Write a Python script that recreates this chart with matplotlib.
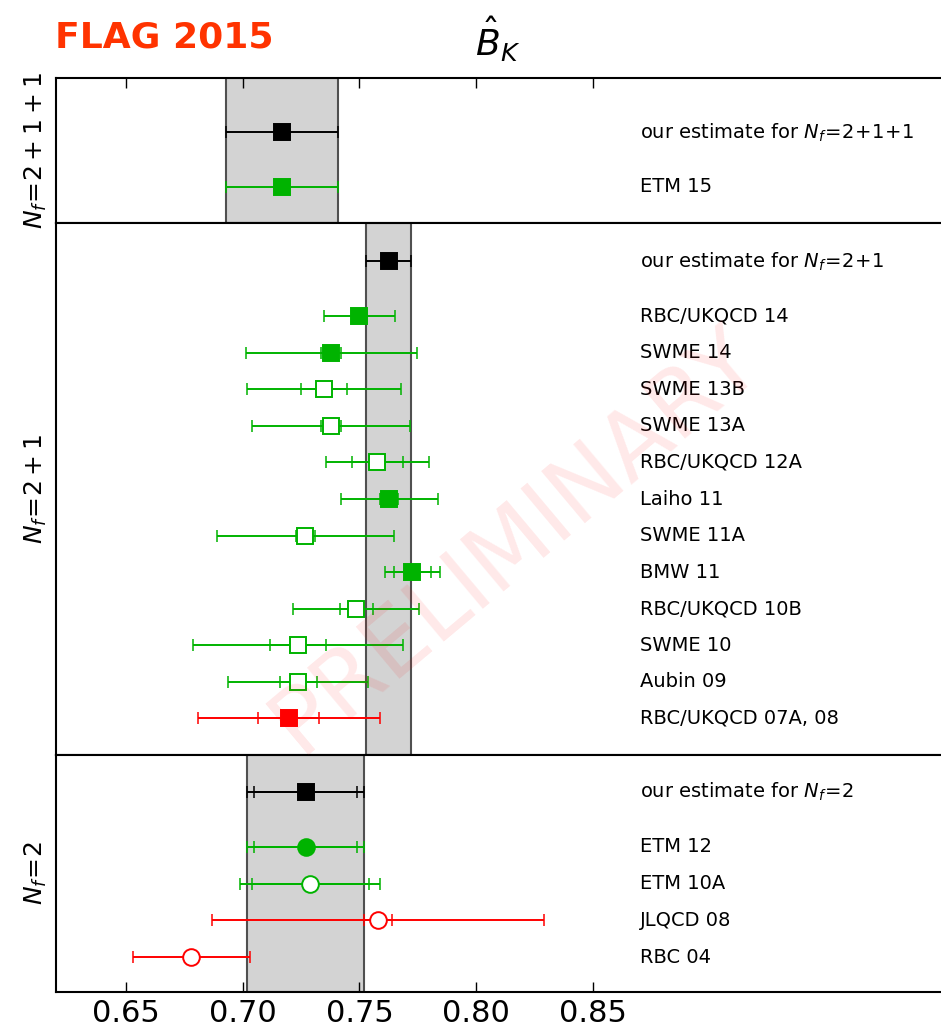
import numpy as np
import matplotlib.pyplot as plt

# colours used in the FLAG plots
COLS = {"black": "black", "green": "#00b300", "red": "#ff0000"}

# ---- N_f = 2+1+1 ----
nf4_labels = ["ETM 15"]
nf4_vals = [0.717]
nf4_stat = [0.0]
nf4_tot = [0.024]
nf4_cols = ["green"]
nf4_marks = ["s"]
nf4_fill = [True]
nf4_est = [0.717, 0.0, 0.024]

# ---- N_f = 2+1 ----
nf3_labels = ["RBC/UKQCD 14", "SWME 14", "SWME 13B", "SWME 13A", "RBC/UKQCD 12A",
              "Laiho 11", "SWME 11A", "BMW 11", "RBC/UKQCD 10B", "SWME 10",
              "Aubin 09", "RBC/UKQCD 07A, 08"]
nf3_vals = [0.7499, 0.7379, 0.7347, 0.7377, 0.7577, 0.7628, 0.7268, 0.7727,
            0.7487, 0.7238, 0.7238, 0.7197]
nf3_stat = [0.0024, 0.0043, 0.0099, 0.0042, 0.0110, 0.0038, 0.0040, 0.0081,
            0.0070, 0.0120, 0.0080, 0.0130]
nf3_tot = [0.0152, 0.0366, 0.0330, 0.0339, 0.0220, 0.0208, 0.0380, 0.0117,
           0.0270, 0.0450, 0.0300, 0.0390]
nf3_cols = ["green"] * 11 + ["red"]
nf3_marks = ["s"] * 12
nf3_fill = [True, True, False, False, False, True, False, True, False, False, False, True]
nf3_est = [0.7625, 0.0, 0.0097]

# ---- N_f = 2 ----
nf2_labels = ["ETM 12", "ETM 10A", "JLQCD 08", "RBC 04"]
nf2_vals = [0.727, 0.729, 0.758, 0.678]
nf2_stat = [0.022, 0.025, 0.006, 0.0]
nf2_tot = [0.025, 0.030, 0.071, 0.025]
nf2_cols = ["green", "green", "red", "red"]
nf2_marks = ["o", "o", "o", "o"]
nf2_fill = [True, False, False, False]
nf2_est = [0.727, 0.022, 0.025]

XLAB = 0.87


def drawPoint(ax, v, y, s, t, col, mark, fill):
    c = COLS[col]
    ax.errorbar(v, y, xerr=t, fmt="none", ecolor=c, elinewidth=1.4,
                capsize=4.5, capthick=1.1, zorder=2)
    if s > 0:
        ax.errorbar(v, y, xerr=s, fmt="none", ecolor=c, elinewidth=1.4,
                    capsize=4.5, capthick=1.1, zorder=2)
    ax.plot(v, y, marker=mark, ms=12, ls="none", mfc=c if fill else "white",
            mec=c, mew=1.4, zorder=3)


def drawPanel(ax, labels, vals, stat, tot, cols, marks, fills, est, estLabel, ylim, ylabel):
    n = len(labels)
    ys = np.arange(n)[::-1]
    ye = n + 0.5
    c, s, t = est
    ax.axvspan(c - t, c + t, facecolor="lightgray", edgecolor="#505050", lw=1.5, zorder=0)
    drawPoint(ax, c, ye, s, t, "black", "s", True)
    ax.text(XLAB, ye, estLabel, fontsize=14, va="center")
    for i in range(n):
        drawPoint(ax, vals[i], ys[i], stat[i], tot[i], cols[i], marks[i], fills[i])
        ax.text(XLAB, ys[i], labels[i], fontsize=14, va="center")
    ax.set_xlim(0.62, 1.0)
    ax.set_ylim(*ylim)
    ax.set_yticks([])
    ax.set_xticks([0.65, 0.70, 0.75, 0.80, 0.85])
    ax.set_ylabel(ylabel, fontsize=18, labelpad=5)
    for sp in ax.spines.values():
        sp.set_linewidth(1.5)


W, H = 941, 1031
fig = plt.figure(figsize=(W / 100, H / 100), dpi=100)


def addAx(top, bottom):
    return fig.add_axes([56 / W, 1 - bottom / H, 887 / W, (bottom - top) / H])


axTop = addAx(78, 223)
axMid = addAx(223, 755)
axBot = addAx(755, 992)

drawPanel(axTop, nf4_labels, nf4_vals, nf4_stat, nf4_tot, nf4_cols, nf4_marks, nf4_fill,
          nf4_est, r"our estimate for $N_f\!=\!2\!+\!1\!+\!1$", (-1, 3), r"$N_f\!=\!2+1+1$")
drawPanel(axMid, nf3_labels, nf3_vals, nf3_stat, nf3_tot, nf3_cols, nf3_marks, nf3_fill,
          nf3_est, r"our estimate for $N_f\!=\!2\!+\!1$", (-1, 13.55), r"$N_f\!=\!2+1$")
drawPanel(axBot, nf2_labels, nf2_vals, nf2_stat, nf2_tot, nf2_cols, nf2_marks, nf2_fill,
          nf2_est, r"our estimate for $N_f\!=\!2$", (-0.95, 5.5), r"$N_f\!=\!2$")

axTop.tick_params(axis="x", direction="in", top=True, bottom=False,
                  labeltop=False, labelbottom=False, length=7, width=1)
axMid.tick_params(axis="x", bottom=False, top=False, labelbottom=False)
axBot.tick_params(axis="x", direction="in", top=False, bottom=True,
                  labelsize=22, length=7, width=1, pad=5)

fig.text(55 / W, 1 - 47 / H, "FLAG 2015", color="#ff3300", fontsize=26,
         fontweight="bold", va="baseline", ha="left")
fig.text(498 / W, 1 - 64 / H, r"$\hat{B}_K$", fontsize=26, ha="center", va="bottom")

fig.text(515 / W, 1 - 540 / H, "PRELIMINARY", fontsize=66, color="red", alpha=0.09,
         rotation=40, ha="center", va="center")

fig.savefig("out.png", dpi=100)
